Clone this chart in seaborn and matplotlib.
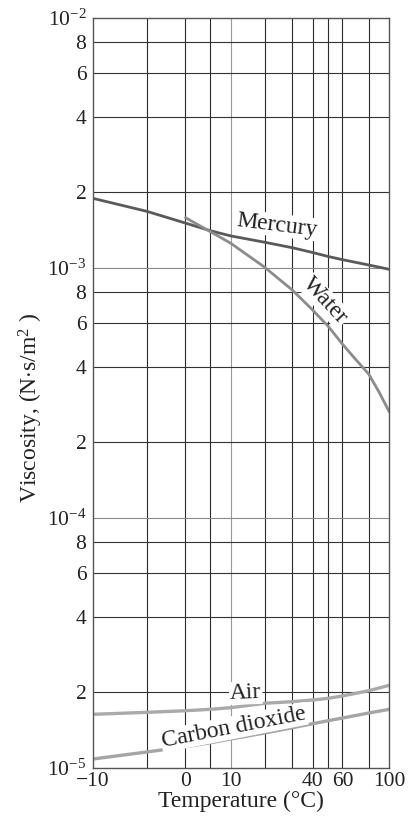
import numpy as np
import pandas as pd
import seaborn as sns
import matplotlib.pyplot as plt

# temperatures where the chart has vertical grid lines (deg C)
temps = [-10, -5, 0, 5, 10, 20, 30, 40, 50, 60, 80, 100]
water_temps = [0, 5, 10, 20, 30, 40, 50, 60, 70, 80, 90, 100]

# viscosity, N*s/m^2
mercury = [1.895e-3, 1.680e-3, 1.508e-3, 1.405e-3, 1.340e-3, 1.264e-3,
           1.202e-3, 1.150e-3, 1.108e-3, 1.077e-3, 1.025e-3, 0.985e-3]
water = [1.585e-3, 1.393e-3, 1.252e-3, 1.004e-3, 0.814e-3, 0.677e-3,
         0.581e-3, 0.495e-3, 0.430e-3, 0.375e-3, 0.318e-3, 0.265e-3]
air = [1.635e-5, 1.665e-5, 1.690e-5, 1.712e-5, 1.738e-5, 1.810e-5,
       1.837e-5, 1.866e-5, 1.895e-5, 1.936e-5, 2.032e-5, 2.136e-5]
co2 = [1.083e-5, 1.156e-5, 1.213e-5, 1.259e-5, 1.303e-5, 1.377e-5,
       1.445e-5, 1.500e-5, 1.542e-5, 1.580e-5, 1.655e-5, 1.712e-5]

xtick_vals = [-10, 0, 10, 40, 60, 100]
xtick_labels = ["\u221210", "0", "10", "40", "60", "100"]
ytick_vals = [1e-5, 2e-5, 4e-5, 6e-5, 8e-5, 1e-4, 2e-4, 4e-4, 6e-4, 8e-4,
              1e-3, 2e-3, 4e-3, 6e-3, 8e-3, 1e-2]
ytick_labels = [r"$10^{-5}$", "2", "4", "6", "8", r"$10^{-4}$", "2", "4", "6", "8",
                r"$10^{-3}$", "2", "4", "6", "8", r"$10^{-2}$"]

# the temperature axis of the original is not linear: where each grid line sits
axis_pos = [0, 54.3, 92.8, 117.8, 138.1, 172.0, 199.6, 220.0, 235.8, 249.7, 276.1, 296.6]

df = pd.concat([
    pd.DataFrame({"T": temps, "mu": mercury, "fluid": "Mercury"}),
    pd.DataFrame({"T": water_temps, "mu": water, "fluid": "Water"}),
    pd.DataFrame({"T": temps, "mu": air, "fluid": "Air"}),
    pd.DataFrame({"T": temps, "mu": co2, "fluid": "Carbon dioxide"}),
])

sns.set_theme(style="white")
plt.rcParams['font.family'] = ['Liberation Serif', 'DejaVu Serif']
plt.rcParams['mathtext.fontset'] = 'custom'
plt.rcParams['mathtext.rm'] = 'Liberation Serif'
plt.rcParams['mathtext.it'] = 'Liberation Serif:italic'

fig = plt.figure(figsize=(4.12, 8.23), dpi=100)
ax = fig.add_axes([0.225, 0.0672, 0.7199, 0.9113])

def fwd(t):
    return np.interp(t, temps, axis_pos)

def inv(p):
    return np.interp(p, axis_pos, temps)

ax.set_xscale('function', functions=(fwd, inv))
ax.set_yscale('log')
ax.set_xlim(-10, 100)
ax.set_ylim(1e-5, 1e-2)

# grid
for t in temps[1:-1]:
    ax.axvline(t, color='#999999' if t == 10 else '#2b2b2b', lw=0.8, zorder=1)
for v in ytick_vals[1:-1]:
    ax.axhline(v, color='#8a8a8a' if v in (1e-4, 1e-3) else '#333333', lw=0.8, zorder=1)

pal = {"Mercury": "#5a5a5a", "Water": "#8c8c8c", "Air": "#aaaaaa", "Carbon dioxide": "#a5a5a5"}
sns.lineplot(data=df, x="T", y="mu", hue="fluid", palette=pal, legend=False,
             ax=ax, lw=2.0, zorder=3, sort=False, estimator=None)
for line in ax.lines[-4:]:
    if line.get_color() in ("#aaaaaa", "#a5a5a5"):
        line.set_linewidth(2.4)

box = dict(facecolor='white', edgecolor='none', pad=0.6)
lab = dict(fontsize=17, ha='center', va='center', rotation_mode='anchor',
           color='#222222', zorder=4, bbox=box)
ax.text(24.6, 1.48e-3, "Mercury", rotation=-7, **lab)
ax.text(47.8, 7.35e-4, "Water", rotation=-47, **lab)
ax.text(14.4, 1.99e-5, "Air", rotation=2, **lab)
ax.text(10.9, 1.45e-5, "Carbon dioxide", rotation=11, **lab)

ax.set_xticks(xtick_vals)
ax.set_xticklabels(xtick_labels)
ax.set_yticks(ytick_vals)
ax.set_yticklabels(ytick_labels)
ax.minorticks_off()
ax.tick_params(axis='both', length=0, labelsize=15.5, colors='#222222')
ax.tick_params(axis='x', pad=3)
ax.tick_params(axis='y', pad=4.5)

for s in ax.spines.values():
    s.set_color('#555555')
    s.set_linewidth(1.0)
    s.set_zorder(5)

ax.set_xlabel("Temperature (\u00b0C)", fontsize=17, color='#222222')
ax.xaxis.set_label_coords(0.5, -0.031)
ax.xaxis.label.set_va('top')
ax.set_ylabel(r"Viscosity, (N$\cdot$s/m$^2$ )", fontsize=17, color='#222222')
ax.yaxis.set_label_coords(-0.21, 0.48)
ax.yaxis.label.set_va('center')

fig.savefig("out.png", dpi=100, facecolor='white')
